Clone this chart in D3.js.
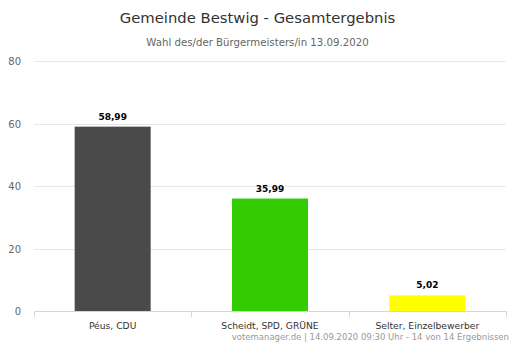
<!DOCTYPE html>
<html><head><meta charset="utf-8">
<script src="https://cdn.jsdelivr.net/npm/d3@7"></script>
<style>body{margin:0;background:#fff;}svg{display:block;font-family:"DejaVu Sans","Open Sans",sans-serif;}</style>
</head><body>
<svg id="c" width="515" height="343"></svg>
<script>
const categories = ["Péus, CDU", "Scheidt, SPD, GRÜNE", "Selter, Einzelbewerber"];
const values = [58.99, 35.99, 5.02];
const valueLabels = ["58,99", "35,99", "5,02"];
const colors = ["#4a4a4a", "#33cc00", "#ffff00"];
const yTicks = [0, 20, 40, 60, 80];
const title = "Gemeinde Bestwig - Gesamtergebnis";
const subtitle = "Wahl des/der Bürgermeisters/in 13.09.2020";
const credits = "votemanager.de | 14.09.2020 09:30 Uhr - 14 von 14 Ergebnissen";

(function () {
const svg = d3.select("#c");
const pl = 34, pr = 506, pt = 61, pb = 311;
const x = d3.scaleBand().domain(categories).range([pl, pr]).paddingInner(0).paddingOuter(0);
const y = d3.scaleLinear().domain([0, 80]).range([pb, pt]);

svg.append("text").attr("x", 257.5).attr("y", 22.5).attr("text-anchor", "middle")
  .attr("font-size", 14.8).attr("fill", "#333").text(title);
svg.append("text").attr("x", 257.5).attr("y", 46).attr("text-anchor", "middle")
  .attr("font-size", 10.2).attr("fill", "#666").text(subtitle);

svg.append("g").selectAll("line").data(yTicks.filter(d => d > 0)).join("line")
  .attr("x1", pl).attr("x2", pr)
  .attr("y1", d => Math.round(y(d)) + 0.5).attr("y2", d => Math.round(y(d)) + 0.5)
  .attr("stroke", "#e6e6e6").attr("stroke-width", 1);

svg.append("g").selectAll("text").data(yTicks).join("text")
  .attr("x", 21).attr("y", d => y(d) + 4).attr("text-anchor", "end")
  .attr("font-size", 10).attr("fill", "#666").text(d => d);

const bw = 76;
svg.append("g").selectAll("rect").data(values).join("rect")
  .attr("x", (d, i) => x(categories[i]) + x.bandwidth() / 2 - bw / 2)
  .attr("width", bw)
  .attr("y", d => y(d)).attr("height", d => pb - y(d))
  .attr("fill", (d, i) => colors[i]);

svg.append("g").selectAll("text").data(values).join("text")
  .attr("x", (d, i) => x(categories[i]) + x.bandwidth() / 2)
  .attr("y", d => y(d) - 7).attr("text-anchor", "middle")
  .attr("font-size", 9).attr("font-weight", "bold").attr("fill", "#000")
  .text((d, i) => valueLabels[i]);

const ax = svg.append("g");
ax.append("line").attr("x1", pl).attr("x2", pr).attr("y1", pb + 0.5).attr("y2", pb + 0.5)
  .attr("stroke", "#ccd6eb");
const tickXs = categories.map(c => x(c)).concat([pr]);
ax.selectAll("line.t").data(tickXs).join("line").attr("class", "t")
  .attr("x1", d => Math.round(d) + 0.5).attr("x2", d => Math.round(d) + 0.5)
  .attr("y1", pb).attr("y2", pb + 6).attr("stroke", "#ccd6eb");
ax.selectAll("text").data(categories).join("text")
  .attr("x", d => x(d) + x.bandwidth() / 2).attr("y", 329).attr("text-anchor", "middle")
  .attr("font-size", 9.2).attr("fill", "#333").text(d => d);

svg.append("text").attr("x", 509).attr("y", 340).attr("text-anchor", "end")
  .attr("font-size", 8.5).attr("fill", "#999").text(credits);
})();
</script>
</body></html>
